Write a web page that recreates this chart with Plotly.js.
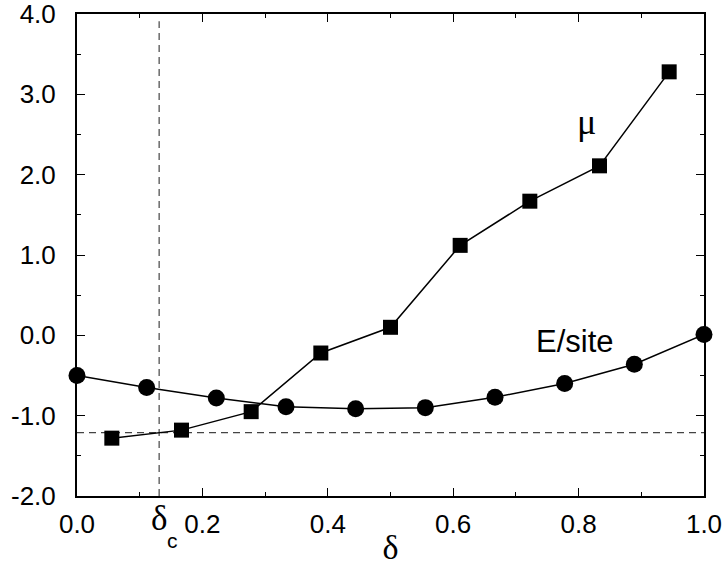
<!DOCTYPE html>
<html>
<head>
<meta charset="utf-8">
<script src="https://cdn.plot.ly/plotly-3.0.1.min.js"></script>
<style>html,body{margin:0;padding:0;background:#fff;}#chart{width:724px;height:566px;}</style>
</head>
<body>
<div id="chart"></div>
<script>
// mu series (squares)
var muX = [1/18, 3/18, 5/18, 7/18, 9/18, 11/18, 13/18, 15/18, 17/18];
var muY = [-1.28, -1.18, -0.95, -0.22, 0.10, 1.12, 1.67, 2.11, 3.28];
// E/site series (circles)
var eX = [0, 1/9, 2/9, 3/9, 4/9, 5/9, 6/9, 7/9, 8/9, 1];
var eY = [-0.50, -0.65, -0.78, -0.89, -0.915, -0.90, -0.77, -0.60, -0.36, 0.01];
// reference lines
var deltaC = 0.131;
var hLineY = -1.21;
// tick labels
var xTickVals = [0, 0.2, 0.4, 0.6, 0.8, 1.0];
var xTickText = ["0.0", "0.2", "0.4", "0.6", "0.8", "1.0"];
var yTickVals = [-2, -1, 0, 1, 2, 3, 4];
var yTickText = ["-2.0", "-1.0", "0.0", "1.0", "2.0", "3.0", "4.0"];

var sans = "Liberation Sans, Arial, Helvetica, sans-serif";
var serif = "Liberation Serif, Times New Roman, serif";

var traces = [
  {x: eX, y: eY, mode: "lines+markers", type: "scatter",
   line: {color: "#000", width: 1.5},
   marker: {symbol: "circle", size: 17, color: "#000"}, cliponaxis: false, hoverinfo: "none"},
  {x: muX, y: muY, mode: "lines+markers", type: "scatter",
   line: {color: "#000", width: 1.5},
   marker: {symbol: "square", size: 15, color: "#000"}, cliponaxis: false, hoverinfo: "none"}
];

var layout = {
  width: 724, height: 566,
  margin: {l: 77, r: 20, t: 14, b: 70},
  paper_bgcolor: "#fff", plot_bgcolor: "#fff",
  showlegend: false,
  font: {family: sans, size: 26, color: "#000"},
  xaxis: {
    range: [0, 1], showgrid: false, zeroline: false,
    showline: true, linecolor: "#000", linewidth: 2, mirror: "ticks",
    ticks: "inside", ticklen: 8, tickwidth: 1, tickcolor: "#000",
    tickvals: xTickVals, ticktext: xTickText,
    tickfont: {family: sans, size: 26},
    ticklabelstandoff: 4, ticklabeloverflow: "allow",
    minor: {dtick: 0.1, ticks: "inside", ticklen: 4, tickwidth: 1, tickcolor: "#000", showgrid: false},
    title: {text: "δ", font: {family: serif, size: 34}, standoff: 0}
  },
  yaxis: {
    range: [-2, 4], showgrid: false, zeroline: false,
    showline: true, linecolor: "#000", linewidth: 2, mirror: "ticks",
    ticks: "inside", ticklen: 8, tickwidth: 1, tickcolor: "#000",
    tickvals: yTickVals, ticktext: yTickText,
    tickfont: {family: sans, size: 26},
    ticklabelstandoff: 14, ticklabeloverflow: "allow",
    minor: {dtick: 0.5, ticks: "inside", ticklen: 4, tickwidth: 1, tickcolor: "#000", showgrid: false}
  },
  shapes: [
    {type: "line", xref: "paper", x0: 0, x1: 1, yref: "y", y0: hLineY, y1: hLineY,
     line: {color: "#444", width: 1.2, dash: "7px,5px"}, layer: "below"},
    {type: "line", xref: "x", x0: deltaC, x1: deltaC, yref: "paper", y0: 0, y1: 0.985,
     line: {color: "#444", width: 1.2, dash: "7px,5px"}, layer: "below"}
  ],
  annotations: [
    {x: 0.813, y: 2.66, xref: "x", yref: "y", text: "μ", showarrow: false,
     font: {family: serif, size: 36}},
    {x: 0.795, y: -0.08, xref: "x", yref: "y", text: "E/site", showarrow: false,
     font: {family: sans, size: 31}},
    {x: deltaC, y: -2, xref: "x", yref: "y", text: "δ",
     showarrow: false, yanchor: "top", yshift: -1, xshift: 0, font: {family: serif, size: 35}},
    {x: deltaC, y: -2, xref: "x", yref: "y", text: "c",
     showarrow: false, yanchor: "middle", yshift: -44, xshift: 13, font: {family: sans, size: 21}}
  ]
};

Plotly.newPlot("chart", traces, layout, {staticPlot: true, displayModeBar: false});
</script>
</body>
</html>
